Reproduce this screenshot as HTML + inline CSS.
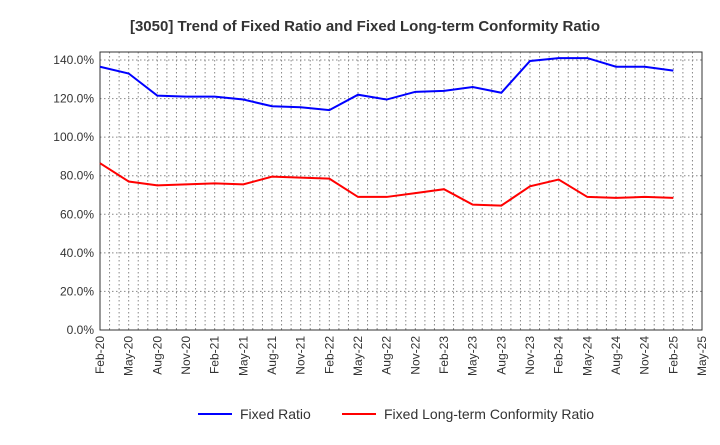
<!DOCTYPE html>
<html><head><meta charset="utf-8"><style>
body{margin:0;background:#fff;font-family:"Liberation Sans",Arial,sans-serif}
svg text{font-family:"Liberation Sans",Arial,sans-serif}
</style></head><body>
<svg id="c" width="720" height="440">
<text x="365" y="31" text-anchor="middle" font-size="15" font-weight="bold" fill="#333">[3050]  Trend of Fixed Ratio and Fixed Long-term Conformity Ratio</text>
<g id="grid"></g><g id="axes"></g><g id="series"></g>
<g>
<line x1="198" y1="414" x2="232" y2="414" stroke="#0000ff" stroke-width="2"/>
<text x="240" y="419" font-size="14" fill="#333">Fixed Ratio</text>
<line x1="342" y1="414" x2="376" y2="414" stroke="#ff0000" stroke-width="2"/>
<text x="384" y="419" font-size="14" fill="#333">Fixed Long-term Conformity Ratio</text>
</g>
</svg>
<script>
const categories=["Feb-20","May-20","Aug-20","Nov-20","Feb-21","May-21","Aug-21","Nov-21","Feb-22","May-22","Aug-22","Nov-22","Feb-23","May-23","Aug-23","Nov-23","Feb-24","May-24","Aug-24","Nov-24","Feb-25","May-25"];
const fixedRatio=[136.5,133,121.5,121,121,119.5,116,115.5,114,122,119.5,123.5,124,126,123,139.5,141,141,136.5,136.5,134.5];
const conformityRatio=[86.5,77,75,75.5,76,75.5,79.5,79,78.5,69,69,71,73,65,64.5,74.5,78,69,68.5,69,68.5];
const yTicks=[0,20,40,60,80,100,120,140];
const NS="http://www.w3.org/2000/svg";
const L=100,R=702,T=52,B=330;
const x=i=>L+i*(R-L)/(categories.length-1);
const y=v=>B-v*(B-60)/140;
function mk(tag,attrs,parent){const e=document.createElementNS(NS,tag);for(const k in attrs)e.setAttribute(k,attrs[k]);parent.appendChild(e);return e;}
const grid=document.getElementById('grid'),axes=document.getElementById('axes'),ser=document.getElementById('series');
for(let i=0;i<categories.length;i++){
 for(let k=0;k<3;k++){const xx=x(i)+k*(R-L)/(categories.length-1)/3;if(xx>R)break;
  const g=mk('line',{x1:xx,x2:xx,y1:T,y2:B,stroke:'#888','stroke-dasharray':'1.5,2.5','stroke-width':1},grid);
  
  }
 const t=mk('text',{x:0,y:0,'font-size':12,fill:'#333','text-anchor':'end',transform:`translate(${x(i)+4},${B+6}) rotate(-90)`},axes);
 t.textContent=categories[i];
 
 
}
yTicks.forEach(v=>{
 const g=mk('line',{x1:L,x2:R,y1:y(v),y2:y(v),stroke:'#888','stroke-dasharray':'1.5,2.5','stroke-width':1},grid);
 
 
 const t=mk('text',{x:L-6,y:y(v)+4,'font-size':12,fill:'#333','text-anchor':'end'},axes);
 t.textContent=v.toFixed(1)+'%';
 
 
});
const fr=mk('rect',{x:L,y:T,width:R-L,height:B-T,fill:'none',stroke:'#333','stroke-width':1},axes);


function line(data,color,name){
 const p=mk('polyline',{points:data.map((v,i)=>x(i)+','+y(v)).join(' '),fill:'none',stroke:color,'stroke-width':2},ser);
 
 
}
line(fixedRatio,'#0000ff','fixed-ratio-line');
line(conformityRatio,'#ff0000','conformity-ratio-line');
</script>
</body></html>
